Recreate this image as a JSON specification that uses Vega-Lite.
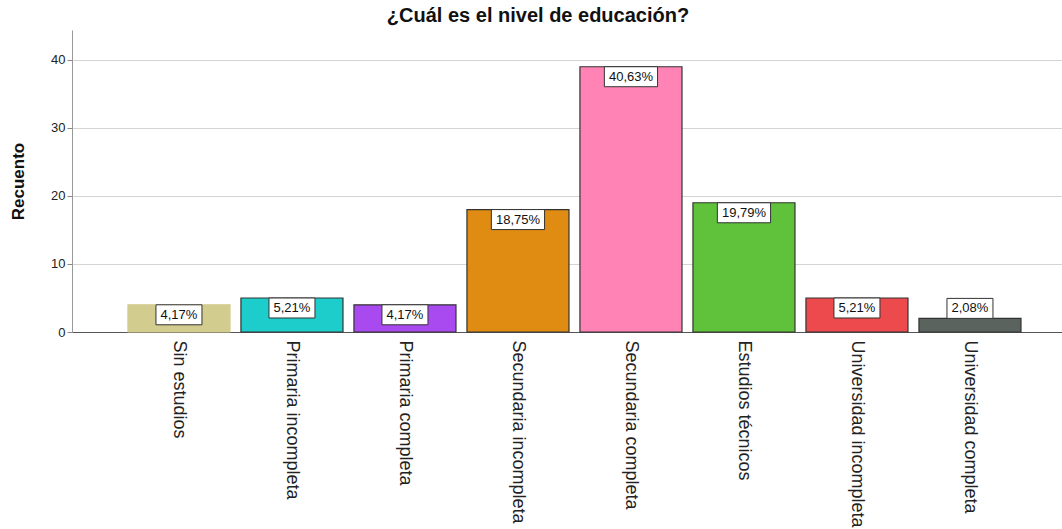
{
  "$schema": "https://vega.github.io/schema/vega-lite/v6.json",
  "autosize": "none",
  "width": 990,
  "height": 302,
  "padding": {"left": 72, "top": 30, "right": 0, "bottom": 197},
  "background": "white",
  "title": {"text": "¿Cuál es el nivel de educación?", "font": "Liberation Sans", "fontSize": 20, "fontWeight": "bold", "color": "#111", "anchor": "middle", "dx": -29, "offset": 4},
  "config": {
    "view": {"stroke": null},
    "locale": {"number": {"decimal": ",", "thousands": ".", "grouping": [3], "currency": ["", "€"]}},
    "font": "Liberation Sans"
  },
  "data": {"values": [
    {"nivel": "Sin estudios", "n": 4, "pct": 0.0417},
    {"nivel": "Primaria incompleta", "n": 5, "pct": 0.0521},
    {"nivel": "Primaria completa", "n": 4, "pct": 0.0417},
    {"nivel": "Secundaria incompleta", "n": 18, "pct": 0.1875},
    {"nivel": "Secundaria completa", "n": 39, "pct": 0.4063},
    {"nivel": "Estudios técnicos", "n": 19, "pct": 0.1979},
    {"nivel": "Universidad incompleta", "n": 5, "pct": 0.0521},
    {"nivel": "Universidad completa", "n": 2, "pct": 0.0208}
  ]},
  "encoding": {
    "x": {"field": "nivel", "type": "nominal", "sort": null,
      "scale": {"paddingInner": 0.097, "paddingOuter": 0.429, "align": 0.577},
      "axis": {"title": null, "labelAngle": 90, "labelFontSize": 18, "labelColor": "#222", "labelPadding": 8, "ticks": false, "domainColor": "#555", "domainWidth": 1, "labelLimit": 300}},
    "y": {"field": "n", "type": "quantitative",
      "scale": {"domain": [0, 44.4], "nice": false},
      "axis": {"title": "Recuento", "titleFontSize": 17, "titleFontWeight": "bold", "titleColor": "#111", "titlePadding": 23, "values": [0, 10, 20, 30, 40], "labelFontSize": 13, "labelColor": "#222", "tickColor": "#888", "tickSize": 5, "domainColor": "#999", "gridColor": "#d4d4d4", "gridWidth": 1.2}}
  },
  "layer": [
    {
      "mark": {"type": "bar", "strokeWidth": 1.2},
      "encoding": {
        "fill": {"field": "nivel", "type": "nominal", "sort": null, "legend": null,
          "scale": {"domain": ["Sin estudios", "Primaria incompleta", "Primaria completa", "Secundaria incompleta", "Secundaria completa", "Estudios técnicos", "Universidad incompleta", "Universidad completa"],
            "range": ["#D2CC8E", "#1DCDCB", "#A94AF0", "#E08B12", "#FF84B5", "#5FC23A", "#EC4A4C", "#5A635E"]}},
        "stroke": {"field": "nivel", "type": "nominal", "sort": null, "legend": null,
          "scale": {"domain": ["Sin estudios", "Primaria incompleta", "Primaria completa", "Secundaria incompleta", "Secundaria completa", "Estudios técnicos", "Universidad incompleta", "Universidad completa"],
            "range": ["#D2CC8E", "#333333", "#333333", "#333333", "#333333", "#333333", "#333333", "#333333"]}}
      }
    },
    {
      "transform": [{"filter": "datum.pct >= 0.1"}],
      "mark": {"type": "point", "shape": "M-1.33,-0.5H1.33V0.5H-1.33Z", "size": 1600, "filled": true, "fill": "white", "stroke": "#333", "strokeWidth": 1, "opacity": 1, "yOffset": 10}
    },
    {
      "transform": [{"filter": "datum.pct < 0.1 && datum.n >= 3"}],
      "mark": {"type": "point", "shape": "M-1.15,-0.5H1.15V0.5H-1.15Z", "size": 1600, "filled": true, "fill": "white", "stroke": "#333", "strokeWidth": 1, "opacity": 1, "yOffset": 10}
    },
    {
      "transform": [{"filter": "datum.n < 3"}],
      "mark": {"type": "point", "shape": "M-1.15,-0.5H1.15V0.5H-1.15Z", "size": 1600, "filled": true, "fill": "white", "stroke": "#333", "strokeWidth": 1, "opacity": 1, "yOffset": -10}
    },
    {
      "transform": [{"filter": "datum.n >= 3"}],
      "mark": {"type": "text", "fontSize": 13, "color": "#111", "baseline": "middle", "yOffset": 10},
      "encoding": {"text": {"field": "pct", "type": "quantitative", "format": ".2%"}}
    },
    {
      "transform": [{"filter": "datum.n < 3"}],
      "mark": {"type": "text", "fontSize": 13, "color": "#111", "baseline": "middle", "yOffset": -10},
      "encoding": {"text": {"field": "pct", "type": "quantitative", "format": ".2%"}}
    }
  ]
}
